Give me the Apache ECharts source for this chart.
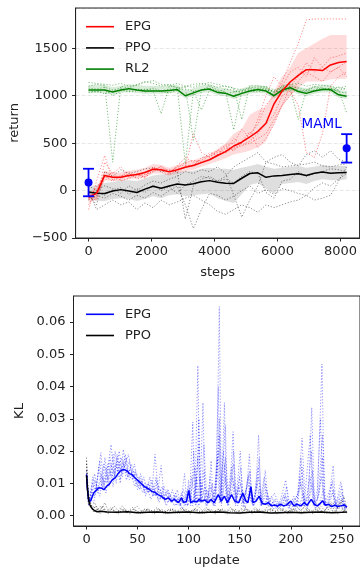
<!DOCTYPE html>
<html>
<head>
<meta charset="utf-8">
<script src="https://cdn.jsdelivr.net/npm/echarts@6/dist/echarts.min.js"></script>
<style>html,body{margin:0;padding:0;background:#fff;}#c{width:360px;height:571px;}</style>
</head>
<body>
<div id="c"></div>
<script>
// ---------- top panel: return vs steps ----------
const steps = [0,256,512,768,1024,1280,1536,1792,2048,2304,2560,2816,3072,3328,3584,3840,4096,4352,4608,4864,5120,5376,5632,5888,6144,6400,6656,6912,7168,7424,7680,7936,8192];
const stepTicks = [0,2000,4000,6000,8000];

const epgMean = [-70,-30,160,140,140,160,170,190,225,220,197,220,245,265,295,325,370,410,470,510,565,625,710,915,1050,1145,1215,1275,1275,1265,1325,1350,1360];
const epgLow  = [-130,-90,110,100,100,120,130,140,180,180,160,180,200,220,250,280,310,340,380,400,420,460,520,700,880,1000,1080,1150,1150,1150,1170,1180,1180];
const epgHigh = [-20,30,210,190,190,210,220,240,280,270,240,270,300,320,350,380,440,500,600,650,800,850,880,1050,1200,1300,1450,1500,1550,1600,1640,1640,1640];

const ppoMean = [-15,-28,-30,-5,10,-5,-20,15,45,25,48,70,60,72,92,105,88,78,75,130,180,187,140,155,158,170,178,160,182,195,182,188,190];
const ppoLow  = [-80,-110,-110,-90,-80,-90,-110,-90,-60,-80,-50,-40,-60,-50,-40,-30,-80,-110,-130,-40,60,80,20,-30,70,80,90,70,100,120,110,110,120];
const ppoHigh = [40,60,80,90,110,110,100,130,160,170,180,200,200,210,230,240,230,230,220,240,260,280,250,230,240,250,260,240,250,270,260,260,260];

const rl2Mean = [1060,1060,1060,1040,1060,1075,1060,1050,1050,1050,1055,1065,1000,1030,1060,1070,1035,1025,995,1025,1050,1065,1050,1000,1060,1085,1045,1025,1050,1065,1065,1010,995];
const rl2Low  = [1030,1030,1030,1010,1030,1040,1030,1020,1020,1020,1025,1035,970,1000,1030,1040,1005,995,965,995,1020,1035,1020,970,1030,1055,1015,995,1020,1035,1035,980,965];
const rl2High = [1110,1110,1115,1090,1105,1120,1115,1105,1105,1100,1110,1115,1050,1080,1110,1120,1090,1080,1050,1080,1100,1115,1100,1050,1110,1130,1095,1080,1100,1115,1115,1060,1050];

const epgRun1 = [-150,-20,200,150,120,180,130,200,220,250,180,260,350,300,320,400,380,450,420,500,600,700,900,1000,1150,1350,1550,1800,1810,1810,1810,1810,1810];
const epgRun2 = [-80,-100,300,180,250,140,180,140,200,230,220,200,250,600,400,350,420,480,500,650,550,750,1000,1200,1100,1250,1300,1200,1400,1300,1250,1300,1360];
const epgRun3 = [-50,-80,150,100,150,200,120,150,250,200,170,220,250,280,300,330,380,420,550,480,520,600,700,800,1000,1050,900,400,350,600,1100,1200,1250];
const epgRun4 = [-100,50,100,200,100,130,160,170,200,260,200,240,300,320,300,380,420,400,450,470,500,550,600,750,900,1000,1150,1250,1200,1150,1250,1300,1200];
const epgRun5 = [-200,100,370,110,160,150,180,130,240,220,200,250,270,260,350,360,400,470,430,520,620,450,550,700,900,1100,1200,1350,1250,1300,1400,1420,1450];

const ppoRun1 = [-50,-150,200,150,220,180,200,230,240,200,210,200,-300,50,120,150,100,150,250,300,350,400,300,280,250,260,270,280,300,260,250,270,280];
const ppoRun2 = [0,-200,-150,-100,-150,-120,-200,-130,-180,-100,-150,-120,-80,-50,-100,-150,-220,-250,-200,-150,-180,-230,-150,-180,-150,-120,-100,-50,-100,-80,-50,100,250];
const ppoRun3 = [-100,-50,-80,-30,-60,-100,-50,-80,-20,-60,0,50,-150,-400,-200,-30,-50,-100,-60,0,50,-30,10,-40,20,0,-30,-50,30,80,50,120,180];
const ppoRun4 = [50,0,50,20,-30,50,0,60,100,80,120,150,200,180,220,200,250,180,-50,-280,-100,50,300,350,380,300,260,380,420,350,420,330,300];
const ppoRun5 = [-80,-20,-50,10,30,-40,20,-20,60,0,40,-30,60,100,150,130,100,120,80,150,200,180,-20,-80,100,120,200,150,180,200,230,220,200];

const rl2Run1 = [1100,1120,1110,300,1100,1080,1120,1150,1130,1100,1120,1080,1100,1120,1130,1110,1090,1100,1080,1060,1090,1080,1100,1060,1090,1100,1080,1060,1100,1080,1050,1060,1080];
const rl2Run2 = [1050,1040,1060,1000,1050,1070,1060,1040,1050,810,1100,1090,280,1050,1060,1080,1050,1020,1040,1050,1060,1070,1080,1000,1060,1090,1050,1040,1060,1080,1070,1060,820];
const rl2Run3 = [1080,1070,1090,1060,1080,1050,1070,1060,1080,1050,1070,1070,1090,530,1060,1100,1060,1040,640,1050,1080,1060,1070,1040,1080,1070,1060,1050,1090,1060,1080,1040,1030];
const rl2Run4 = [1030,1050,1020,1050,1060,1040,1050,1070,1060,1040,1030,1060,1070,1050,850,1060,1040,1070,1060,1030,1050,1040,1060,1050,1040,1070,750,1060,1050,1070,1060,1090,1060];
const rl2Run5 = [1140,1130,1120,1110,1130,1100,1110,1140,1160,1120,1110,1130,1100,1090,1120,1140,1120,1100,1080,750,1110,1100,1090,1030,1100,1120,1130,1100,1120,1110,1100,1080,1100];

const mamlSteps = [0, 8192];
const mamlMean  = [85, 445];
const mamlLow   = [-60, 295];
const mamlHigh  = [230, 595];

// ---------- bottom panel: KL vs update ([update, KL]) ----------
const updateTicks = [0,50,100,150,200,250];
const klTicks = [0,0.01,0.02,0.03,0.04,0.05,0.06];

const klEpgMean = [[0,0.0127],[1,0.008],[2,0.005],[4,0.0045],[7,0.007],[10,0.008],[12,0.0086],[15,0.0085],[17,0.008],[20,0.0092],[22,0.0096],[25,0.011],[28,0.0117],[31,0.013],[33,0.0138],[36,0.0143],[38,0.0141],[40,0.0138],[42,0.013],[44.5,0.0127],[48,0.0115],[51,0.0107],[54,0.0098],[57,0.0089],[60,0.0084],[64,0.0075],[67,0.0072],[70,0.0065],[73,0.006],[77,0.005],[80,0.0055],[83,0.0045],[86,0.005],[90,0.004],[93,0.0055],[95,0.004],[98,0.0045],[100,0.0078],[102,0.004],[105,0.0045],[108,0.0042],[110,0.005],[113,0.0045],[116,0.0048],[119,0.004],[122,0.005],[125,0.004],[129,0.0065],[132,0.0045],[135,0.006],[138,0.004],[142,0.0065],[145,0.0045],[149,0.004],[153,0.007],[156,0.0045],[158,0.004],[161,0.0089],[163,0.004],[166,0.0045],[169,0.006],[172,0.0038],[175,0.0035],[178,0.004],[181,0.003],[184,0.0033],[187,0.0029],[190,0.0035],[193,0.003],[196,0.0033],[200,0.0045],[203,0.003],[206,0.0035],[210,0.003],[213,0.004],[216,0.0032],[220,0.005],[223,0.0035],[226,0.003],[229,0.0038],[231,0.0046],[234,0.0032],[237,0.0035],[240,0.0028],[243,0.0032],[246,0.0028],[249,0.003],[252,0.0033],[255,0.0027]];

const klPpoMean = [[0,0.0125],[1,0.008],[2,0.005],[3,0.0035],[4,0.0028],[6,0.002],[8,0.0015],[10,0.0012],[14,0.0013],[20,0.0011],[30,0.001],[40,0.0012],[50,0.0009],[60,0.001],[70,0.0011],[80,0.0009],[90,0.001],[100,0.0011],[110,0.0009],[120,0.001],[130,0.0011],[140,0.0009],[150,0.0008],[160,0.001],[170,0.0011],[180,0.0008],[190,0.0009],[200,0.001],[210,0.0009],[220,0.001],[230,0.0011],[240,0.0009],[250,0.001],[255,0.0011]];

const klEpgRun1 = [[0,0.012],[2,0.004],[5,0.008],[8,0.006],[11,0.012],[14,0.0195],[17,0.009],[20,0.013],[24,0.022],[27,0.012],[30,0.018],[33,0.011],[36,0.0205],[40,0.012],[44,0.016],[48,0.01],[52,0.012],[56,0.008],[60,0.01],[64,0.007],[67,0.019],[70,0.008],[73,0.0155],[76,0.006],[80,0.008],[84,0.004],[88,0.006],[92,0.003],[96,0.013],[98,0.004],[101,0.005],[104,0.029],[106,0.004],[109,0.0465],[111,0.004],[114,0.035],[116,0.005],[119,0.004],[122,0.017],[124,0.004],[127,0.005],[130,0.0648],[132,0.004],[135,0.035],[137,0.004],[140,0.006],[143.5,0.026],[146,0.003],[150.5,0.02],[153,0.004],[156,0.005],[159.5,0.019],[162,0.004],[165,0.004],[168.5,0.025],[171,0.003],[175,0.014],[178,0.003],[182,0.004],[186,0.002],[190,0.005],[195,0.011],[198,0.003],[202,0.005],[206,0.003],[211,0.024],[214,0.004],[217,0.003],[220.5,0.0335],[223,0.004],[226,0.005],[230.5,0.047],[233,0.003],[237,0.004],[241.5,0.0155],[244,0.003],[249,0.0105],[252,0.003],[255,0.002]];
const klEpgRun2 = [[0,0.013],[3,0.003],[6,0.01],[9,0.007],[13,0.017],[16,0.008],[19,0.015],[22,0.009],[26,0.019],[29,0.01],[32,0.017],[35,0.012],[39,0.018],[42,0.011],[46,0.014],[50,0.008],[54,0.011],[58,0.006],[62,0.012],[66,0.006],[69,0.011],[72,0.005],[76,0.009],[80,0.004],[84,0.008],[88,0.003],[93,0.007],[97,0.003],[100,0.011],[102,0.003],[105,0.02],[107,0.003],[110,0.03],[112,0.004],[115,0.022],[118,0.003],[121,0.012],[124,0.003],[128,0.018],[130,0.004],[133,0.014],[136,0.028],[138,0.003],[141,0.008],[144,0.02],[147,0.004],[151,0.015],[154,0.003],[158,0.012],[160,0.006],[163,0.003],[167,0.01],[170,0.004],[174,0.012],[177,0.003],[181,0.006],[185,0.003],[190,0.004],[194,0.007],[198,0.002],[203,0.006],[207,0.003],[210,0.018],[213,0.003],[219,0.025],[222,0.003],[226,0.008],[229,0.03],[232,0.003],[236,0.006],[240,0.01],[243,0.003],[247,0.006],[250,0.009],[253,0.002],[255,0.003]];
const klEpgRun3 = [[0,0.011],[2,0.005],[5,0.006],[8,0.011],[11,0.008],[14,0.013],[18,0.01],[21,0.016],[25,0.012],[28,0.02],[31,0.013],[34,0.018],[37,0.015],[41,0.019],[45,0.012],[49,0.013],[53,0.009],[57,0.01],[61,0.007],[65,0.009],[68,0.006],[72,0.008],[75,0.005],[79,0.007],[83,0.004],[87,0.006],[91,0.003],[95,0.006],[99,0.003],[103,0.012],[106,0.004],[109,0.018],[112,0.004],[116,0.009],[120,0.004],[123,0.01],[126,0.003],[129,0.04],[131,0.004],[134,0.02],[137,0.004],[142,0.015],[145,0.004],[149,0.009],[152,0.003],[156,0.008],[160,0.01],[163,0.003],[168,0.015],[171,0.003],[176,0.008],[180,0.003],[184,0.005],[188,0.002],[193,0.006],[197,0.003],[201,0.004],[205,0.002],[209,0.012],[212,0.004],[216,0.005],[220,0.02],[223,0.003],[227,0.006],[231,0.025],[234,0.003],[238,0.005],[242,0.008],[245,0.002],[249,0.005],[252,0.002],[255,0.003]];
const klEpgRun4 = [[0,0.012],[2,0.003],[4,0.005],[7,0.004],[10,0.009],[13,0.006],[16,0.012],[19,0.007],[23,0.014],[26,0.009],[29,0.016],[33,0.01],[36,0.017],[39,0.011],[43,0.015],[47,0.009],[51,0.011],[55,0.007],[59,0.009],[63,0.005],[67,0.008],[71,0.004],[74,0.007],[78,0.003],[82,0.006],[86,0.003],[90,0.005],[94,0.002],[98,0.005],[101,0.008],[104,0.003],[108,0.012],[110,0.003],[113,0.01],[117,0.003],[120,0.007],[125,0.003],[130,0.025],[132,0.003],[136,0.012],[139,0.003],[144,0.01],[148,0.003],[152,0.008],[155,0.002],[160,0.009],[164,0.003],[169,0.008],[173,0.003],[178,0.006],[183,0.002],[187,0.004],[192,0.002],[196,0.005],[200,0.002],[204,0.004],[208,0.002],[212,0.007],[216,0.002],[221,0.01],[224,0.002],[228,0.004],[232,0.008],[235,0.002],[240,0.004],[244,0.002],[248,0.004],[251,0.002],[255,0.002]];
const klEpgRun5 = [[0,0.01],[2,0.004],[4,0.007],[6,0.012],[9,0.008],[12,0.015],[15,0.009],[18,0.018],[21,0.011],[24,0.016],[27,0.013],[30,0.019],[33,0.014],[36,0.016],[39,0.013],[42,0.017],[45,0.011],[48,0.014],[52,0.008],[56,0.012],[60,0.007],[64,0.011],[68,0.006],[71,0.009],[75,0.005],[79,0.008],[83,0.004],[87,0.007],[91,0.004],[95,0.008],[99,0.003],[102,0.006],[106,0.015],[108,0.004],[111,0.012],[114,0.004],[118,0.008],[122,0.004],[126,0.009],[129,0.02],[131,0.004],[135,0.016],[138,0.004],[141,0.01],[144,0.016],[146,0.004],[150,0.012],[153,0.004],[157,0.009],[160,0.014],[162,0.004],[166,0.007],[169,0.018],[171,0.003],[175,0.01],[179,0.004],[184,0.007],[189,0.003],[193,0.004],[196,0.009],[199,0.003],[204,0.005],[209,0.008],[211,0.015],[213,0.003],[218,0.006],[221,0.014],[224,0.003],[228,0.007],[231,0.018],[233,0.003],[238,0.006],[241,0.011],[243,0.003],[247,0.005],[250,0.007],[253,0.003],[255,0.002]];
const klEpgRun6 = [[0,0.014],[1,0.008],[3,0.004],[5,0.009],[8,0.013],[11,0.007],[14,0.011],[17,0.016],[20,0.01],[23,0.018],[26,0.011],[29,0.014],[32,0.02],[35,0.013],[38,0.019],[41,0.012],[44,0.013],[47,0.016],[50,0.009],[53,0.013],[57,0.007],[61,0.01],[65,0.006],[68,0.012],[70,0.005],[74,0.009],[77,0.004],[81,0.007],[85,0.005],[89,0.008],[92,0.003],[96,0.005],[100,0.009],[103,0.004],[107,0.008],[110,0.022],[112,0.004],[115,0.014],[117,0.004],[121,0.009],[125,0.005],[128,0.012],[130,0.03],[133,0.005],[136,0.018],[139,0.005],[143,0.012],[147,0.005],[151,0.01],[154,0.004],[159,0.013],[161,0.004],[165,0.006],[168,0.012],[172,0.004],[176,0.006],[180,0.003],[185,0.005],[190,0.003],[195,0.006],[199,0.003],[203,0.004],[207,0.007],[210,0.01],[214,0.003],[219,0.012],[222,0.004],[226,0.005],[230,0.012],[233,0.004],[237,0.003],[241,0.007],[245,0.003],[249,0.006],[252,0.003],[255,0.004]];

const klPpoRun1 = [[0,0.018],[1,0.009],[2,0.005],[4,0.003],[6,0.002],[9,0.003],[12,0.001],[16,0.003],[20,0.001],[25,0.002],[30,0.001],[35,0.003],[40,0.001],[46,0.002],[52,0.001],[58,0.002],[64,0.001],[70,0.002],[76,0.001],[82,0.002],[88,0.001],[94,0.002],[100,0.001],[106,0.002],[112,0.001],[118,0.002],[124,0.001],[130,0.002],[136,0.001],[142,0.002],[148,0.001],[154,0.003],[160,0.001],[166,0.002],[172,0.001],[178,0.003],[184,0.001],[190,0.002],[196,0.001],[202,0.002],[208,0.001],[214,0.003],[220,0.001],[226,0.003],[232,0.001],[238,0.004],[244,0.001],[250,0.005],[253,0.002],[255,0.001]];
const klPpoRun2 = [[0,0.016],[1,0.011],[2,0.007],[3,0.004],[5,0.003],[8,0.004],[11,0.002],[14,0.002],[18,0.004],[22,0.001],[27,0.003],[32,0.001],[37,0.002],[43,0.001],[49,0.003],[55,0.001],[61,0.002],[67,0.001],[73,0.002],[79,0.001],[85,0.002],[91,0.001],[97,0.002],[103,0.001],[109,0.003],[115,0.001],[121,0.002],[127,0.001],[133,0.002],[139,0.001],[145,0.002],[151,0.001],[157,0.002],[163,0.001],[169,0.002],[175,0.001],[181,0.002],[187,0.001],[193,0.002],[199,0.001],[205,0.003],[211,0.001],[217,0.002],[223,0.001],[229,0.003],[235,0.001],[241,0.004],[247,0.002],[252,0.006],[255,0.002]];
const klPpoRun3 = [[0,0.014],[1,0.006],[2,0.003],[4,0.004],[7,0.001],[10,0.002],[13,0.0005],[17,0.002],[21,0.0005],[26,0.0015],[31,0.0005],[36,0.002],[42,0.0005],[48,0.0015],[54,0.0005],[60,0.002],[66,0.0005],[72,0.0015],[78,0.0005],[84,0.002],[90,0.0005],[96,0.0015],[102,0.0005],[108,0.002],[114,0.0005],[120,0.0015],[126,0.0005],[132,0.002],[138,0.0005],[144,0.0015],[150,0.0005],[156,0.002],[162,0.0005],[168,0.0015],[174,0.0005],[180,0.002],[186,0.0005],[192,0.0015],[198,0.0005],[204,0.002],[210,0.0005],[216,0.0015],[222,0.0005],[228,0.002],[234,0.0005],[240,0.0015],[246,0.0005],[251,0.002],[255,0.0005]];
const klPpoRun4 = [[0,0.017],[1,0.01],[2,0.006],[3,0.005],[5,0.002],[7,0.003],[10,0.0015],[14,0.003],[19,0.001],[24,0.0025],[29,0.0008],[34,0.002],[39,0.0008],[45,0.0025],[51,0.0008],[57,0.002],[63,0.0008],[69,0.0025],[75,0.0008],[81,0.002],[87,0.0008],[93,0.0025],[99,0.0008],[105,0.002],[111,0.0008],[117,0.0025],[123,0.0008],[129,0.002],[135,0.0008],[141,0.0025],[147,0.0008],[153,0.002],[159,0.0008],[165,0.0025],[171,0.0008],[177,0.002],[183,0.0008],[189,0.0025],[195,0.0008],[201,0.002],[207,0.0008],[213,0.0025],[219,0.0008],[225,0.002],[231,0.0008],[237,0.003],[243,0.0008],[248,0.004],[252,0.001],[255,0.003]];

// ---------- helpers ----------
const FONT = 'DejaVu Sans';
const pairs = (xs, ys) => xs.map((x, i) => [x, ys[i]]);

function meanSeries(name, data, color, xi) {
  return { name, type: 'line', data, xAxisIndex: xi, yAxisIndex: xi, showSymbol: false, symbol: 'none',
    lineStyle: { color, width: 1.5 }, itemStyle: { color }, z: 5, silent: true };
}
function runSeries(name, data, color, xi, op) {
  return { name, type: 'line', data, xAxisIndex: xi, yAxisIndex: xi, showSymbol: false, symbol: 'none',
    lineStyle: { color, width: 1, type: [1.2, 1.8], opacity: op }, itemStyle: { color }, z: 3, silent: true };
}
// shaded band between lo and hi, drawn as one polygon through the axis scales
function bandSeries(name, lo, hi, fill) {
  return {
    name, type: 'custom', xAxisIndex: 0, yAxisIndex: 0, clip: true, silent: true, z: 2,
    data: steps.map((s, i) => [s, lo[i], hi[i]]),
    renderItem: function (params, api) {
      if (params.dataIndex !== 0) return null;
      const pts = [];
      for (let i = 0; i < steps.length; i++) pts.push(api.coord([steps[i], hi[i]]));
      for (let i = steps.length - 1; i >= 0; i--) pts.push(api.coord([steps[i], lo[i]]));
      return { type: 'polygon', shape: { points: pts }, style: { fill: fill, stroke: null } };
    }
  };
}

const axisCommon = {
  axisLine: { show: true, onZero: false, lineStyle: { color: '#222', width: 1 } },
  axisTick: { show: true, inside: false, length: 3.5, lineStyle: { color: '#222', width: 1 } },
  axisLabel: { color: '#222', fontFamily: FONT, fontSize: 13 },
  nameTextStyle: { color: '#222', fontFamily: FONT, fontSize: 13 },
  nameLocation: 'middle'
};

const series = [];
series.push(bandSeries('RL2 band', rl2Low, rl2High, 'rgba(0,128,0,0.15)'));
series.push(bandSeries('PPO band', ppoLow, ppoHigh, 'rgba(0,0,0,0.13)'));
series.push(bandSeries('EPG band', epgLow, epgHigh, 'rgba(255,0,0,0.14)'));
[rl2Run1, rl2Run2, rl2Run3, rl2Run4, rl2Run5].forEach((r, i) => series.push(runSeries('RL2 run ' + i, pairs(steps, r), '#008000', 0, 0.5)));
[ppoRun1, ppoRun2, ppoRun3, ppoRun4, ppoRun5].forEach((r, i) => series.push(runSeries('PPO run ' + i, pairs(steps, r), '#000000', 0, 0.45)));
[epgRun1, epgRun2, epgRun3, epgRun4, epgRun5].forEach((r, i) => series.push(runSeries('EPG run ' + i, pairs(steps, r), '#ff0000', 0, 0.45)));
series.push(meanSeries('RL2', pairs(steps, rl2Mean), '#008000', 0));
series.push(meanSeries('PPO', pairs(steps, ppoMean), '#000000', 0));
series.push(meanSeries('EPG', pairs(steps, epgMean), '#ff0000', 0));

series.push({
  name: 'MAML', type: 'custom', xAxisIndex: 0, yAxisIndex: 0, z: 10, silent: true,
  data: mamlSteps.map((s, i) => [s, mamlMean[i], mamlLow[i], mamlHigh[i]]),
  renderItem: function (params, api) {
    const x = api.value(0);
    const pm = api.coord([x, api.value(1)]);
    const pl = api.coord([x, api.value(2)]);
    const ph = api.coord([x, api.value(3)]);
    const st = { stroke: '#0000ff', lineWidth: 1.8 };
    const children = [
      { type: 'line', shape: { x1: pl[0], y1: pl[1], x2: ph[0], y2: ph[1] }, style: st },
      { type: 'line', shape: { x1: pl[0] - 5.5, y1: pl[1], x2: pl[0] + 5.5, y2: pl[1] }, style: st },
      { type: 'line', shape: { x1: ph[0] - 5.5, y1: ph[1], x2: ph[0] + 5.5, y2: ph[1] }, style: st },
      { type: 'circle', shape: { cx: pm[0], cy: pm[1], r: 4 }, style: { fill: '#0000ff' } }
    ];
    if (params.dataIndex === 1) {
      children.push({ type: 'text', x: ph[0] - 25, y: ph[1] - 10,
        style: { text: 'MAML', fill: '#0000ff', font: '13.5px "DejaVu Sans"', align: 'center', verticalAlign: 'middle' } });
    }
    return { type: 'group', children };
  }
});

// bottom
[klPpoRun1, klPpoRun2, klPpoRun3, klPpoRun4].forEach((r, i) => series.push(runSeries('KL PPO run ' + i, r, '#000000', 1, 0.45)));
[klEpgRun1, klEpgRun2, klEpgRun3, klEpgRun4, klEpgRun5, klEpgRun6].forEach((r, i) => series.push(runSeries('KL EPG run ' + i, r, '#0000ff', 1, 0.42)));
series.push(meanSeries('KL EPG', klEpgMean, '#0000ff', 1));
series.push(meanSeries('KL PPO', klPpoMean, '#000000', 1));

const legendCommon = {
  orient: 'vertical', left: 86, itemWidth: 28, itemHeight: 1.6, itemGap: 7.2, icon: 'rect', padding: 0,
  textStyle: { fontFamily: FONT, fontSize: 13, color: '#222', lineHeight: 14, padding: [0, 0, 0, 6] },
  selectedMode: false
};

const option = {
  animation: false,
  backgroundColor: '#fff',
  grid: [
    { left: 73.5, top: 8, width: 290, height: 230, show: true, borderColor: '#222', borderWidth: 1, backgroundColor: 'transparent' },
    { left: 73.5, top: 296, width: 290, height: 230, show: true, borderColor: '#222', borderWidth: 1, backgroundColor: 'transparent' }
  ],
  legend: [
    Object.assign({}, legendCommon, { top: 19.7, data: ['EPG', 'PPO', 'RL2'] }),
    Object.assign({}, legendCommon, { top: 307.3, data: ['KL EPG', 'KL PPO'], formatter: n => n.replace('KL ', '') })
  ],
  xAxis: [
    Object.assign({}, axisCommon, { type: 'value', gridIndex: 0, min: -410, max: 8602, name: 'steps', nameGap: 28,
      splitLine: { show: false },
      axisTick: Object.assign({}, axisCommon.axisTick, { customValues: stepTicks }),
      axisLabel: Object.assign({}, axisCommon.axisLabel, { customValues: stepTicks, margin: 7, formatter: v => String(v) }) }),
    Object.assign({}, axisCommon, { type: 'value', gridIndex: 1, min: -12.75, max: 267.75, name: 'update', nameGap: 28,
      splitLine: { show: false },
      axisTick: Object.assign({}, axisCommon.axisTick, { customValues: updateTicks }),
      axisLabel: Object.assign({}, axisCommon.axisLabel, { customValues: updateTicks, margin: 7, formatter: v => String(v) }) })
  ],
  yAxis: [
    Object.assign({}, axisCommon, { type: 'value', gridIndex: 0, min: -500, max: 1925, interval: 500, name: 'return', nameGap: 51,
      splitLine: { show: true, lineStyle: { color: 'rgba(0,0,0,0.12)', type: [4, 2], width: 0.8 } },
      axisLabel: Object.assign({}, axisCommon.axisLabel, { margin: 8, showMaxLabel: false,
        formatter: v => (v < 0 ? '\u2212' + Math.abs(v) : String(v)) }) }),
    Object.assign({}, axisCommon, { type: 'value', gridIndex: 1, min: -0.00324, max: 0.0681, name: 'KL', nameGap: 47,
      splitLine: { show: false },
      axisTick: Object.assign({}, axisCommon.axisTick, { customValues: klTicks }),
      axisLabel: Object.assign({}, axisCommon.axisLabel, { margin: 8, customValues: klTicks, formatter: v => v.toFixed(2) }) })
  ],
  series
};

const chart = echarts.init(document.getElementById('c'), null, { renderer: 'canvas', width: 360, height: 571 });
chart.setOption(option);
</script>
</body>
</html>
